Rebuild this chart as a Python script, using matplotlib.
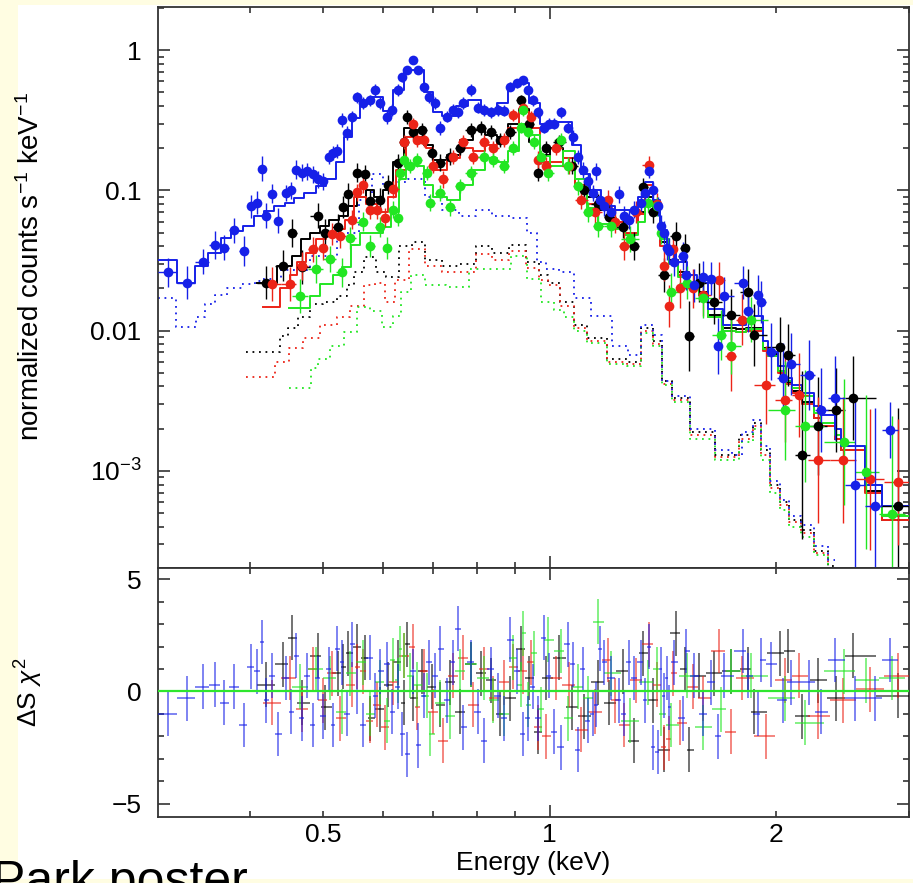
import numpy as np
import matplotlib
matplotlib.use('Agg')
import matplotlib.pyplot as plt
from matplotlib.patches import Rectangle
from matplotlib.ticker import FixedLocator, FixedFormatter, NullFormatter, LogLocator

plt.rcParams['font.family'] = ['Liberation Sans', 'DejaVu Sans']
plt.rcParams['mathtext.fontset'] = 'custom'
plt.rcParams['mathtext.rm'] = 'Liberation Sans'
plt.rcParams['mathtext.it'] = 'Liberation Sans:italic'

# ---- data points (energy keV, normalized counts, error in dex, residual) ----
blue_E = [0.311, 0.330, 0.346, 0.359, 0.370, 0.381, 0.393, 0.401, 0.409, 0.415,
          0.420, 0.428, 0.436, 0.447, 0.454, 0.460, 0.469, 0.476, 0.485, 0.492,
          0.500, 0.510, 0.516, 0.522, 0.530, 0.538, 0.547, 0.555, 0.565, 0.577,
          0.587, 0.596, 0.609, 0.618, 0.628, 0.637, 0.647, 0.659, 0.669, 0.680,
          0.692, 0.705, 0.716, 0.731, 0.743, 0.755, 0.768, 0.785, 0.802, 0.817,
          0.835, 0.853, 0.869, 0.887, 0.905, 0.921, 0.935, 0.950, 0.964, 0.982,
          0.998, 1.012, 1.034, 1.057, 1.073, 1.090, 1.106, 1.124, 1.140, 1.152,
          1.165, 1.180, 1.205, 1.236, 1.254, 1.274, 1.294, 1.321, 1.340, 1.355,
          1.371, 1.392, 1.405, 1.418, 1.430, 1.440, 1.462, 1.503, 1.517, 1.555,
          1.600, 1.637, 1.674, 1.705, 1.806, 1.835, 1.890, 1.910, 1.970, 2.040,
          2.090, 2.210, 2.290, 2.390, 2.540, 2.700, 2.830]
blue_v = [0.026, 0.022, 0.031, 0.041, 0.039, 0.052, 0.037, 0.077, 0.082, 0.143,
          0.066, 0.095, 0.061, 0.096, 0.100, 0.141, 0.134, 0.137, 0.130, 0.120,
          0.116, 0.174, 0.186, 0.190, 0.320, 0.258, 0.335, 0.460, 0.420, 0.440,
          0.520, 0.420, 0.335, 0.375, 0.520, 0.640, 0.720, 0.850, 0.720, 0.550,
          0.460, 0.420, 0.280, 0.335, 0.375, 0.360, 0.420, 0.520, 0.390, 0.375,
          0.360, 0.375, 0.370, 0.550, 0.580, 0.610, 0.520, 0.440, 0.360, 0.280,
          0.300, 0.300, 0.360, 0.280, 0.240, 0.174, 0.140, 0.116, 0.096, 0.137,
          0.086, 0.077, 0.070, 0.094, 0.066, 0.062, 0.073, 0.082, 0.096, 0.137,
          0.100, 0.077, 0.056, 0.050, 0.039, 0.037, 0.031, 0.034, 0.025, 0.021,
          0.024, 0.0235, 0.0078, 0.0176, 0.022, 0.0139, 0.018, 0.016, 0.0071, 0.0046,
          0.0058, 0.0048, 0.0027, 0.0033, 0.00079, 0.00056, 0.00196]
blue_err = [0.10, 0.12, 0.09, 0.10, 0.09, 0.09, 0.11, 0.08, 0.08, 0.09,
            0.09, 0.07, 0.09, 0.06, 0.06, 0.07, 0.06, 0.06, 0.06, 0.06,
            0.06, 0.05, 0.05, 0.05, 0.05, 0.05, 0.04, 0.04, 0.04, 0.04,
            0.04, 0.04, 0.05, 0.04, 0.04, 0.03, 0.03, 0.03, 0.03, 0.03,
            0.04, 0.04, 0.05, 0.04, 0.04, 0.04, 0.04, 0.04, 0.04, 0.04,
            0.04, 0.04, 0.04, 0.03, 0.03, 0.03, 0.03, 0.04, 0.04, 0.04,
            0.04, 0.04, 0.04, 0.04, 0.05, 0.05, 0.06, 0.06, 0.06, 0.06,
            0.07, 0.07, 0.07, 0.06, 0.07, 0.07, 0.06, 0.06, 0.06, 0.05,
            0.06, 0.07, 0.08, 0.08, 0.09, 0.09, 0.10, 0.10, 0.11, 0.12,
            0.12, 0.12, 0.20, 0.14, 0.12, 0.15, 0.14, 0.15, 0.20, 0.25,
            0.22, 0.25, 0.30, 0.30, 0.60, 0.70, 0.20]
blue_res = [-1.0, -0.3, 0.2, 0.3, -0.5, 0.2, -1.5, 1.1, 0.9, 2.2,
            -0.4, 0.7, -1.9, 0.6, -0.9, 1.6, -1.2, 0.7, -1.5, 0.6,
            -1.1, 1.0, -1.5, 1.9, 1.3, -1.0, 2.1, 0.0, -1.5, 1.5,
            -0.2, 0.9, 1.2, -0.9, 0.2, -1.9, -2.8, 0.9, -2.4, -0.2,
            1.3, 0.7, 1.9, -0.4, 1.3, 2.8, -1.6, 1.3, -0.9, -2.2,
            1.0, -0.2, -1.2, 2.3, 0.9, -1.9, -1.2, 0.2, -1.2, 2.4,
            0.7, -1.8, -2.5, 2.1, 1.2, -2.6, 1.0, -1.3, -1.0, -0.6,
            1.9, 1.3, 0.6, -0.4, -1.0, 1.3, 0.6, 1.3, -0.4, 2.0,
            -2.5, -2.7, 1.0, -0.2, 0.6, -0.7, 1.3, -1.2, 1.8, 0.7,
            -1.0, 0.4, -2.0, 0.7, 1.8, 0.7, -1.0, 1.4, 1.2, -0.4,
            0.4, 0.4, -0.9, 1.4, -0.3, -0.3, 1.4]

black_E = [0.420, 0.443, 0.455, 0.469, 0.492, 0.503, 0.524, 0.532, 0.540, 0.555,
           0.569, 0.577, 0.596, 0.610, 0.628, 0.640, 0.647, 0.659, 0.677, 0.698,
           0.716, 0.738, 0.761, 0.785, 0.810, 0.835, 0.860, 0.887, 0.915, 0.940,
           0.964, 0.990, 1.030, 1.070, 1.110, 1.160, 1.200, 1.250, 1.294, 1.330,
           1.370, 1.418, 1.470, 1.510, 1.530, 1.580, 1.650, 1.740, 1.835, 1.870,
           2.020, 2.070, 2.160, 2.270, 2.400, 2.530, 2.900]
black_v = [0.022, 0.029, 0.050, 0.0285, 0.066, 0.050, 0.055, 0.076, 0.094, 0.134,
           0.130, 0.084, 0.086, 0.110, 0.158, 0.220, 0.335, 0.260, 0.270, 0.186,
           0.158, 0.174, 0.200, 0.270, 0.280, 0.260, 0.230, 0.260, 0.440, 0.300,
           0.134, 0.200, 0.220, 0.150, 0.100, 0.080, 0.065, 0.055, 0.040, 0.105,
           0.070, 0.025, 0.047, 0.039, 0.0091, 0.022, 0.016, 0.013, 0.019, 0.0093,
           0.0076, 0.0067, 0.0013, 0.0021, 0.0027, 0.0033, 0.00056]
black_err = [0.12, 0.11, 0.10, 0.12, 0.09, 0.10, 0.09, 0.08, 0.08, 0.07,
             0.07, 0.08, 0.08, 0.07, 0.06, 0.05, 0.05, 0.05, 0.05, 0.05,
             0.06, 0.06, 0.05, 0.05, 0.05, 0.05, 0.05, 0.05, 0.04, 0.05,
             0.06, 0.05, 0.05, 0.06, 0.07, 0.07, 0.08, 0.08, 0.10, 0.07,
             0.08, 0.12, 0.10, 0.10, 0.25, 0.14, 0.16, 0.18, 0.16, 0.22,
             0.22, 0.22, 0.60, 0.35, 0.30, 0.30, 0.70]
black_res = [0.3, 1.2, 2.4, -0.5, 1.6, -0.7, 0.8, 1.1, 1.7, 2.0,
             1.5, -1.2, -0.8, 0.3, 1.3, -0.5, 2.1, -0.3, 0.9, 0.2,
             -0.6, 0.4, -0.9, 1.2, 0.8, 0.5, -1.0, -0.3, 1.9, 0.6,
             -1.8, 0.6, 1.5, -0.7, -1.1, 0.4, -0.5, 0.9, -2.2, 1.7,
             -0.4, -2.6, 2.6, 1.0, -2.6, 0.7, 0.8, 0.9, 1.0, -0.9,
             1.7, 1.8, -1.1, 0.5, -0.3, 1.6, -0.2]

red_E = [0.428, 0.452, 0.469, 0.485, 0.500, 0.514, 0.527, 0.547, 0.555, 0.565,
         0.577, 0.590, 0.604, 0.620, 0.640, 0.659, 0.667, 0.680, 0.700, 0.722,
         0.745, 0.768, 0.792, 0.817, 0.842, 0.869, 0.895, 0.923, 0.943, 0.964,
         0.990, 1.020, 1.060, 1.100, 1.150, 1.194, 1.220, 1.254, 1.300, 1.355,
         1.390, 1.418, 1.440, 1.460, 1.490, 1.550, 1.600, 1.680, 1.740, 1.800,
         1.940, 2.050, 2.140, 2.270, 2.450, 2.660, 2.900]
red_v = [0.0215, 0.0215, 0.029, 0.038, 0.039, 0.049, 0.047, 0.062, 0.097, 0.110,
         0.073, 0.073, 0.064, 0.102, 0.220, 0.300, 0.230, 0.230, 0.150, 0.120,
         0.174, 0.220, 0.174, 0.220, 0.200, 0.230, 0.345, 0.390, 0.335, 0.166,
         0.150, 0.200, 0.150, 0.086, 0.070, 0.086, 0.060, 0.040, 0.070, 0.153,
         0.080, 0.029, 0.0151, 0.038, 0.020, 0.020, 0.018, 0.0228, 0.0066, 0.012,
         0.0041, 0.0032, 0.0035, 0.0012, 0.0012, 0.00087, 0.00083]
red_err = [0.12, 0.12, 0.10, 0.09, 0.09, 0.08, 0.08, 0.07, 0.06, 0.06,
           0.07, 0.07, 0.07, 0.06, 0.05, 0.04, 0.05, 0.05, 0.05, 0.06,
           0.05, 0.05, 0.05, 0.05, 0.05, 0.05, 0.04, 0.04, 0.04, 0.06,
           0.06, 0.05, 0.06, 0.07, 0.08, 0.07, 0.08, 0.10, 0.08, 0.06,
           0.08, 0.11, 0.15, 0.10, 0.14, 0.14, 0.15, 0.13, 0.25, 0.18,
           0.28, 0.30, 0.30, 0.45, 0.45, 0.50, 0.45]
red_res = [-0.5, 0.6, -0.8, 1.0, -0.4, 0.8, -1.2, 0.3, 1.1, 0.9,
           -1.3, -0.6, -1.6, 0.4, 1.6, 2.0, -0.7, 0.9, -0.9, -2.2,
           0.7, 1.5, -0.6, 1.0, -0.3, 0.4, 1.1, 0.9, 1.3, -1.6,
           -2.0, 0.6, 0.3, -1.7, -0.9, 1.4, -0.4, -1.5, 0.5, 2.1,
           0.3, -2.5, -2.1, 0.8, -1.4, 0.2, -0.3, 1.8, -1.8, 0.6,
           -2.0, 0.5, 0.7, -1.1, -0.4, 0.1, 0.7]

green_E = [0.466, 0.490, 0.511, 0.530, 0.543, 0.565, 0.577, 0.596, 0.609, 0.620,
           0.628, 0.633, 0.640, 0.653, 0.667, 0.688, 0.694, 0.716, 0.738, 0.761,
           0.785, 0.817, 0.842, 0.869, 0.895, 0.915, 0.923, 0.935, 0.952, 0.973,
           0.994, 1.034, 1.057, 1.090, 1.124, 1.158, 1.205, 1.280, 1.350, 1.390,
           1.405, 1.450, 1.520, 1.600, 1.690, 1.740, 1.850, 2.050, 2.180, 2.460,
           2.630, 2.850]
green_v = [0.0177, 0.0276, 0.0325, 0.026, 0.046, 0.060, 0.040, 0.055, 0.039, 0.073,
           0.064, 0.134, 0.166, 0.150, 0.166, 0.134, 0.082, 0.096, 0.076, 0.107,
           0.134, 0.174, 0.166, 0.150, 0.200, 0.280, 0.375, 0.260, 0.220, 0.174,
           0.134, 0.230, 0.150, 0.107, 0.070, 0.056, 0.056, 0.045, 0.082, 0.077,
           0.050, 0.019, 0.022, 0.017, 0.0093, 0.0078, 0.012, 0.0027, 0.0021, 0.0016,
           0.00098, 0.00049]
green_err = [0.12, 0.10, 0.09, 0.10, 0.08, 0.07, 0.08, 0.07, 0.08, 0.06,
             0.06, 0.05, 0.05, 0.05, 0.05, 0.05, 0.06, 0.06, 0.06, 0.05,
             0.05, 0.05, 0.05, 0.05, 0.05, 0.04, 0.04, 0.04, 0.05, 0.05,
             0.06, 0.05, 0.06, 0.06, 0.07, 0.08, 0.08, 0.09, 0.07, 0.07,
             0.08, 0.13, 0.12, 0.14, 0.18, 0.20, 0.16, 0.35, 0.40, 0.45,
             0.55, 0.70]
green_res = [0.2, 1.0, 0.6, -0.9, 0.8, 1.3, -1.0, 0.4, -1.3, 1.4,
             0.5, 1.9, 1.6, 0.7, 0.3, -0.2, -1.9, -0.5, -1.1, 0.9,
             1.2, 0.6, -0.4, -1.0, 1.5, 0.3, 2.6, -0.6, 1.7, -0.8,
             2.3, 1.8, -1.2, 0.2, -0.3, 3.1, 0.8, -1.3, 0.4, 1.0,
             -1.0, -1.5, 0.7, -1.6, -0.8, 0.9, 0.7, -0.3, -1.4, 0.9,
             0.5, 0.6]

# ---- model (step) curves: bin left edges and values ----
blue_mE = [0.302, 0.320, 0.338, 0.352, 0.366, 0.378, 0.392, 0.405, 0.418, 0.430,
           0.445, 0.458, 0.472, 0.490, 0.505, 0.520, 0.533, 0.547, 0.560, 0.580,
           0.600, 0.620, 0.640, 0.660, 0.680, 0.700, 0.720, 0.750, 0.780, 0.810,
           0.850, 0.880, 0.910, 0.940, 0.970, 1.000, 1.040, 1.070, 1.100, 1.130,
           1.170, 1.220, 1.270, 1.310, 1.340, 1.370, 1.400, 1.430, 1.470, 1.520,
           1.570, 1.620, 1.700, 1.770, 1.820, 1.870, 1.920, 1.950, 2.010, 2.060,
           2.100, 2.160, 2.240, 2.290, 2.390, 2.440, 2.620, 2.760, 3.000]
blue_mv = [0.032, 0.022, 0.029, 0.036, 0.046, 0.051, 0.056, 0.066, 0.071, 0.077,
           0.082, 0.089, 0.096, 0.107, 0.120, 0.160, 0.240, 0.330, 0.430, 0.460,
           0.370, 0.520, 0.720, 0.720, 0.500, 0.360, 0.340, 0.400, 0.440, 0.370,
           0.420, 0.560, 0.580, 0.420, 0.300, 0.310, 0.310, 0.210, 0.130, 0.100,
           0.078, 0.072, 0.072, 0.090, 0.115, 0.085, 0.052, 0.037, 0.031, 0.025,
           0.022, 0.0143, 0.0110, 0.0109, 0.0122, 0.0128, 0.0084, 0.0071, 0.0056, 0.0046,
           0.0041, 0.0036, 0.0029, 0.0025, 0.0020, 0.0015, 0.00079, 0.00056, 0.00056]

black_mE = [0.409, 0.435, 0.455, 0.468, 0.480, 0.495, 0.510, 0.525, 0.540, 0.555,
            0.570, 0.585, 0.600, 0.620, 0.640, 0.660, 0.680, 0.700, 0.730, 0.760,
            0.790, 0.820, 0.850, 0.880, 0.910, 0.940, 0.970, 1.000, 1.040, 1.080,
            1.120, 1.160, 1.210, 1.260, 1.310, 1.340, 1.370, 1.400, 1.440, 1.480,
            1.530, 1.580, 1.620, 1.700, 1.770, 1.820, 1.870, 1.920, 1.950, 2.010,
            2.060, 2.100, 2.160, 2.240, 2.290, 2.390, 2.440, 2.620, 2.760, 3.000]
black_mv = [0.022, 0.029, 0.034, 0.045, 0.050, 0.056, 0.062, 0.066, 0.077, 0.090,
            0.100, 0.090, 0.100, 0.160, 0.280, 0.270, 0.210, 0.165, 0.180, 0.230,
            0.270, 0.250, 0.240, 0.300, 0.380, 0.220, 0.180, 0.200, 0.170, 0.110,
            0.090, 0.072, 0.060, 0.050, 0.070, 0.090, 0.070, 0.043, 0.032, 0.026,
            0.022, 0.019, 0.013, 0.0105, 0.0102, 0.0105, 0.0105, 0.0075, 0.0068, 0.0052,
            0.0043, 0.0037, 0.0031, 0.0024, 0.0021, 0.0017, 0.0014, 0.00072, 0.00045, 0.00045]

red_mE = [0.416, 0.438, 0.452, 0.462, 0.475, 0.490, 0.505, 0.520, 0.535, 0.550,
          0.570, 0.590, 0.610, 0.625, 0.645, 0.665, 0.685, 0.700, 0.730, 0.760,
          0.790, 0.820, 0.850, 0.880, 0.910, 0.940, 0.970, 1.000, 1.040, 1.080,
          1.120, 1.160, 1.210, 1.260, 1.310, 1.340, 1.370, 1.400, 1.440, 1.480,
          1.530, 1.580, 1.620, 1.700, 1.770, 1.820, 1.870, 1.920, 1.950, 2.010,
          2.060, 2.100, 2.160, 2.240, 2.290, 2.390, 2.440, 2.620, 2.760, 3.000]
red_mv = [0.0148, 0.020, 0.025, 0.031, 0.036, 0.045, 0.050, 0.053, 0.062, 0.090,
          0.080, 0.070, 0.090, 0.140, 0.240, 0.240, 0.200, 0.140, 0.170, 0.200,
          0.190, 0.210, 0.220, 0.280, 0.360, 0.280, 0.160, 0.160, 0.170, 0.110,
          0.080, 0.075, 0.060, 0.050, 0.068, 0.110, 0.075, 0.040, 0.031, 0.025,
          0.021, 0.018, 0.0125, 0.0100, 0.0098, 0.0100, 0.0100, 0.0072, 0.0066, 0.0050,
          0.0042, 0.0036, 0.0030, 0.0024, 0.0021, 0.0017, 0.0014, 0.00070, 0.00045, 0.00045]

green_mE = [0.450, 0.480, 0.496, 0.515, 0.530, 0.545, 0.560, 0.580, 0.600, 0.615,
            0.630, 0.645, 0.665, 0.680, 0.700, 0.730, 0.760, 0.790, 0.820, 0.850,
            0.880, 0.910, 0.940, 0.970, 1.000, 1.040, 1.080, 1.120, 1.160, 1.210,
            1.260, 1.310, 1.340, 1.370, 1.400, 1.440, 1.480, 1.530, 1.580, 1.620,
            1.700, 1.770, 1.820, 1.870, 1.920, 1.950, 2.010, 2.060, 2.100, 2.160,
            2.240, 2.290, 2.390, 2.440, 2.620, 2.760, 3.000]
green_mv = [0.0144, 0.0177, 0.0215, 0.025, 0.0285, 0.041, 0.050, 0.050, 0.055, 0.070,
            0.120, 0.155, 0.150, 0.110, 0.090, 0.085, 0.110, 0.140, 0.170, 0.160,
            0.190, 0.300, 0.250, 0.175, 0.150, 0.190, 0.120, 0.075, 0.058, 0.053,
            0.048, 0.060, 0.080, 0.070, 0.045, 0.030, 0.024, 0.021, 0.018, 0.0125,
            0.0100, 0.0098, 0.0102, 0.0102, 0.0074, 0.0066, 0.0052, 0.0044, 0.0039, 0.0034,
            0.0026, 0.0022, 0.0018, 0.0015, 0.0008, 0.00048, 0.00048]

# ---- background spectra (dotted) ----
blue_bE = [0.302, 0.318, 0.320, 0.335, 0.343, 0.354, 0.365, 0.380, 0.400, 0.412,
           0.420, 0.460, 0.500, 0.543, 0.573, 0.590, 0.610, 0.630, 0.667, 0.700,
           0.738, 0.778, 0.817, 0.860, 0.915, 0.952, 0.973, 1.003, 1.057, 1.100,
           1.170, 1.250, 1.290, 1.350, 1.390, 1.430, 1.480, 1.590, 1.730, 1.760,
           1.835, 1.890, 1.930, 1.990, 2.050, 2.110, 2.200, 2.290, 2.390]
blue_bv = [0.017, 0.017, 0.0107, 0.0107, 0.0126, 0.0155, 0.018, 0.020, 0.0215, 0.0226,
           0.0235, 0.027, 0.034, 0.050, 0.086, 0.130, 0.110, 0.115, 0.120, 0.090,
           0.073, 0.066, 0.073, 0.066, 0.064, 0.050, 0.031, 0.0275, 0.026, 0.017,
           0.0128, 0.0078, 0.0067, 0.011, 0.0093, 0.0044, 0.0034, 0.0020, 0.0014, 0.0013,
           0.0019, 0.0023, 0.0015, 0.00085, 0.00062, 0.00048, 0.00041, 0.00029, 0.00023]

black_bE = [0.395, 0.435, 0.443, 0.456, 0.470, 0.490, 0.511, 0.532, 0.543, 0.555,
            0.577, 0.600, 0.614, 0.647, 0.667, 0.700, 0.738, 0.778, 0.817, 0.860,
            0.906, 0.952, 0.982, 1.010, 1.057, 1.100, 1.140, 1.240, 1.290, 1.350,
            1.390, 1.430, 1.480, 1.590, 1.730, 1.835, 1.890, 1.930, 1.990, 2.050,
            2.110, 2.200, 2.290, 2.390]
black_bv = [0.0071, 0.0071, 0.0091, 0.0104, 0.0126, 0.0155, 0.016, 0.0176, 0.021, 0.026,
            0.0335, 0.026, 0.024, 0.040, 0.043, 0.032, 0.029, 0.030, 0.040, 0.036,
            0.041, 0.031, 0.025, 0.022, 0.016, 0.011, 0.0088, 0.0063, 0.0060, 0.0104,
            0.0084, 0.0044, 0.0033, 0.0019, 0.0013, 0.0018, 0.0022, 0.0014, 0.0008, 0.0006,
            0.00045, 0.00038, 0.00027, 0.00021]

red_bE = [0.395, 0.425, 0.438, 0.462, 0.480, 0.511, 0.532, 0.555, 0.577, 0.595,
          0.614, 0.633, 0.667, 0.700, 0.738, 0.778, 0.817, 0.860, 0.906, 0.952,
          0.982, 1.010, 1.057, 1.100, 1.140, 1.240, 1.290, 1.350, 1.390, 1.430,
          1.480, 1.590, 1.730, 1.835, 1.890, 1.930, 1.990, 2.050, 2.110, 2.200,
          2.290, 2.390]
red_bv = [0.0047, 0.0047, 0.006, 0.0075, 0.0088, 0.011, 0.0126, 0.015, 0.021, 0.022,
          0.016, 0.023, 0.038, 0.029, 0.026, 0.026, 0.035, 0.032, 0.037, 0.028,
          0.023, 0.021, 0.015, 0.0105, 0.0085, 0.006, 0.0058, 0.0100, 0.0081, 0.0042,
          0.0032, 0.0018, 0.00125, 0.0017, 0.0021, 0.0013, 0.00075, 0.00057, 0.00043, 0.00036,
          0.00026, 0.0002]

green_bE = [0.450, 0.480, 0.485, 0.500, 0.522, 0.543, 0.565, 0.590, 0.609, 0.628,
            0.640, 0.667, 0.700, 0.755, 0.810, 0.860, 0.915, 0.952, 0.994, 1.030,
            1.057, 1.100, 1.140, 1.240, 1.290, 1.350, 1.390, 1.430, 1.480, 1.590,
            1.730, 1.835, 1.890, 1.930, 1.990, 2.050, 2.110, 2.200, 2.290, 2.390]
green_bv = [0.0039, 0.0039, 0.0054, 0.0063, 0.0078, 0.0098, 0.0148, 0.0137, 0.0107, 0.0128,
            0.019, 0.025, 0.021, 0.0205, 0.0276, 0.0276, 0.034, 0.0235, 0.016, 0.014,
            0.0125, 0.010, 0.0082, 0.0058, 0.0056, 0.0097, 0.0078, 0.0041, 0.0031, 0.0017,
            0.0012, 0.0016, 0.002, 0.0012, 0.0007, 0.00053, 0.0004, 0.00034, 0.00025, 0.0002]

col_black = '#000000'
col_red = '#ec2418'
col_green = '#22e622'
col_blue = '#1620e8'

series = [
    (black_E, black_v, black_err, black_res, black_mE, black_mv, black_bE, black_bv, col_black),
    (red_E, red_v, red_err, red_res, red_mE, red_mv, red_bE, red_bv, col_red),
    (green_E, green_v, green_err, green_res, green_mE, green_mv, green_bE, green_bv, col_green),
    (blue_E, blue_v, blue_err, blue_res, blue_mE, blue_mv, blue_bE, blue_bv, col_blue),
]


def bin_halfwidths(E):
    E = np.asarray(E)
    mid = np.sqrt(E[:-1] * E[1:])
    left = np.r_[E[0] ** 2 / mid[0], mid]
    right = np.r_[mid, E[-1] ** 2 / mid[-1]]
    return [E - left, right - E]


fig = plt.figure(figsize=(9.13, 8.83), dpi=100, facecolor='#fffde2')
fig.patches.append(Rectangle((18 / 913, 1 - 879 / 883), 1 - 18 / 913, 874 / 883,
                             transform=fig.transFigure, facecolor='white',
                             edgecolor='none', zorder=-10))

ax1 = fig.add_axes([0.1731, 0.3567, 0.8226, 0.6353])
ax2 = fig.add_axes([0.1731, 0.0747, 0.8226, 0.2820])

for E, v, err, res, mE, mv, bE, bv, c in series:
    E = np.array(E); v = np.array(v); d = np.array(err)
    xe = bin_halfwidths(E)
    ax1.plot(bE, bv, color=c, lw=1.3, linestyle=(0, (1.0, 2.6)),
             drawstyle='steps-mid', zorder=2)
    ax1.plot(mE, mv, color=c, lw=1.4, drawstyle='steps-post', zorder=3)
    ax1.errorbar(E, v, yerr=[v - v / 10 ** d, v * 10 ** d - v], xerr=xe,
                 fmt='o', color=c, ms=7, mew=0, elinewidth=1.0, capsize=0,
                 zorder=4)
    ax2.errorbar(E, res, yerr=1.0, xerr=xe, fmt='none', ecolor=c,
                 elinewidth=1.1, alpha=0.7, capsize=0, zorder=3)

ax2.axhline(0, color='#2ee62e', lw=1.6, zorder=5)

for ax in (ax1, ax2):
    ax.set_xscale('log')
    ax.set_xlim(0.302, 3.0)
    ax.xaxis.set_major_locator(FixedLocator([1.0]))
    ax.xaxis.set_minor_locator(FixedLocator([0.4, 0.5, 0.6, 0.7, 0.8, 0.9, 2.0, 3.0]))
    ax.tick_params(which='both', direction='in', top=True, right=True,
                   width=1.1, color='#222222', labelsize=19)
    ax.tick_params(which='major', length=8.5, pad=12)
    ax.tick_params(which='minor', length=4.5)
    for s in ax.spines.values():
        s.set_linewidth(1.3)
        s.set_color('#333333')

ax1.set_yscale('log')
ax1.set_ylim(2.03e-4, 2.03)
ax1.yaxis.set_major_locator(FixedLocator([1e-3, 1e-2, 1e-1, 1.0]))
ax1.yaxis.set_major_formatter(FixedFormatter(['$10^{-3}$', '0.01', '0.1', '1']))
ax1.yaxis.set_minor_locator(LogLocator(base=10, subs=np.arange(2, 10)))
ax1.yaxis.set_minor_formatter(NullFormatter())
ax1.xaxis.set_major_formatter(NullFormatter())
ax1.xaxis.set_minor_formatter(NullFormatter())
ax1.set_ylabel('normalized counts s$^{-1}$ keV$^{-1}$', fontsize=20)
ax1.yaxis.set_label_coords(-0.15, 0.537)

ax2.set_ylim(-5.6, 5.5)
ax2.yaxis.set_major_locator(FixedLocator([-5, 0, 5]))
ax2.yaxis.set_major_formatter(FixedFormatter(['\u22125', '0', '5']))
ax2.yaxis.set_minor_locator(FixedLocator([-4, -3, -2, -1, 1, 2, 3, 4]))
ax2.xaxis.set_major_formatter(FixedFormatter(['1']))
ax2.xaxis.set_minor_formatter(FixedFormatter(['', '0.5', '', '', '', '', '2', '']))
ax2.tick_params(axis='x', which='both', pad=4)
ax2.set_xlabel('Energy (keV)', fontsize=19, labelpad=3)
ax2.set_ylabel('\u0394S $\\chi^2$', fontsize=19)
ax2.yaxis.set_label_coords(-0.15, 0.5)

# text from the poster slide that overlaps the bottom edge
fig.text(-0.009, -0.0147, 'Park poster', fontsize=36, ha='left', va='baseline')

fig.savefig('out.png', dpi=100, facecolor=fig.get_facecolor())
